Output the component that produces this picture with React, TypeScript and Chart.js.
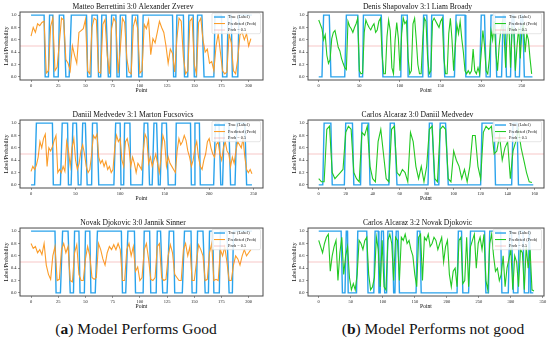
import React, { useEffect, useRef } from "react";
import { Chart, registerables } from "chart.js";
Chart.register(...registerables);

type Run = [number, number, number];

const FONT = "'Liberation Serif', 'Times New Roman', serif";
const BLUE = "#2aa3ec";
const ORANGE = "#fb9d2a";
const GREEN = "#22c922";
const THRESH = "rgba(232,90,90,0.38)";

const legendLabels = ["True (Label)", "Predicted (Prob)", "Prob = 0.5"];
const xAxisTitle = "Point";
const yAxisTitle = "Label/Probability";
const yTicks = [0, 0.2, 0.4, 0.6, 0.8, 1.0];
const yMin = -0.05;
const yMax = 1.05;
const threshold = 0.5;

// ---------- Panel 1 ----------
const p1Title = "Matteo Berrettini 3:0 Alexander Zverev";
const p1Runs: Run[] = [[0,12,1],[13,16,0],[17,20,1],[21,25,0],[26,30,1],[32,35,0],[37,51,1],[52,55,0],[56,61,1],[62,64,0],[65,69,1],[71,73,0],[74,78,1],[79,81,0],[82,87,1],[88,92,0],[93,98,1],[99,102,0],[103,130,1],[131,133,0],[134,140,1],[141,144,0],[145,149,1],[150,152,0],[153,157,1],[159,168,0],[169,175,1],[176,180,0],[181,184,1],[185,190,0],[191,203,1]];
const p1Step = 2;
const p1Pred = [.66,.80,.72,.86,.83,.88,.90,.06,.10,.82,.95,.10,.16,.55,.95,.92,.28,.22,.10,.50,.35,.22,.72,.75,.78,.93,.10,.05,.80,.95,.92,.08,.06,.85,.93,.35,.05,.78,.95,.88,.06,.45,.95,.88,.30,.08,.05,.82,.95,.78,.06,.10,.85,.78,.92,.36,.62,.55,.72,.90,.80,.72,.50,.22,.45,.38,.08,.62,.95,.90,.32,.05,.10,.90,.95,.20,.05,.88,.95,.60,.40,.45,.22,.25,.10,.50,.70,.40,.10,.05,.08,.70,.55,.10,.05,.30,.68,.72,.60,.70,.50,.62];
const p1XRange = [-10.15, 213.15];
const p1XTicks = [0, 25, 50, 75, 100, 125, 150, 175, 200];

// ---------- Panel 2 ----------
const p2Title = "Denis Shapovalov 3:1 Liam Broady";
const p2Runs: Run[] = [[0,4,0],[6,13,1],[15,32,0],[34,48,1],[50,54,0],[55,77,1],[79,101,0],[102,109,1],[110,128,0],[129,133,1],[135,138,0],[139,153,1],[155,167,0],[169,180,1],[181,198,0],[200,204,1],[206,211,0],[212,217,1],[219,225,0],[227,229,1],[231,236,0],[238,240,1],[242,247,0],[249,251,1],[253,263,0]];
const p2Step = 2;
const p2Pred = [.92,.85,.78,.60,.68,.35,.22,.28,.62,.72,.75,.62,.48,.42,.30,.22,.15,.12,.90,.82,.78,.72,.80,.86,.95,.10,.05,.06,.72,.92,.85,.80,.76,.82,.86,.72,.76,.90,.95,.35,.05,.05,.65,.92,.75,.15,.05,.60,.88,.62,.10,.70,.95,.86,.90,.30,.05,.10,.86,.95,.60,.20,.05,.05,.60,.95,.90,.30,.05,.10,.90,.95,.90,.85,.80,.90,.95,.30,.05,.05,.70,.95,.60,.10,.50,.85,.70,.90,.62,.40,.10,.05,.10,.05,.10,.45,.10,.05,.15,.05,.40,.75,.50,.10,.05,.30,.75,.60,.90,.40,.10,.50,.75,.90,.70,.15,.75,.85,.15,.80,.75,.10,.50,.80,.30,.75,.85,.40,.70,.60,.30,.05];
const p2XRange = [-13.2, 277.2];
const p2XTicks = [0, 50, 100, 150, 200, 250];

// ---------- Panel 3 ----------
const p3Title = "Daniil Medvedev 3:1 Marton Fucsovics";
const p3Runs: Run[] = [[0,4,0],[6,24,1],[25,33,0],[35,41,1],[42,45,0],[47,51,1],[53,56,0],[58,61,1],[63,68,0],[69,74,1],[76,93,0],[95,100,1],[101,104,0],[105,111,1],[112,125,0],[127,131,1],[133,136,0],[138,141,1],[143,145,0],[147,152,1],[154,162,0],[163,179,1],[180,183,0],[184,189,1],[190,205,0],[207,211,1],[213,215,0],[217,222,1],[224,229,0],[231,240,1],[242,248,0]];
const p3Step = 2;
const p3Pred = [.22,.30,.25,.32,.45,.70,.60,.75,.82,.30,.60,.55,.62,.72,.80,.20,.25,.20,.30,.22,.70,.55,.30,.60,.75,.40,.25,.35,.55,.65,.50,.30,.20,.25,.50,.80,.75,.82,.45,.35,.40,.30,.38,.25,.30,.20,.25,.60,.80,.70,.75,.40,.30,.70,.75,.60,.30,.45,.35,.20,.35,.30,.25,.55,.82,.75,.35,.45,.30,.40,.50,.35,.20,.45,.80,.70,.30,.45,.35,.30,.25,.20,.55,.75,.65,.70,.80,.72,.55,.45,.30,.40,.60,.70,.45,.30,.25,.40,.50,.70,.75,.60,.50,.45,.65,.70,.50,.40,.60,.70,.55,.50,.30,.45,.35,.55,.70,.65,.60,.75,.45,.25,.20,.25,.18];
const p3XRange = [-12.4, 260.4];
const p3XTicks = [0, 50, 100, 150, 200, 250];

// ---------- Panel 4 ----------
const p4Title = "Carlos Alcaraz 3:0 Daniil Medvedev";
const p4Runs: Run[] = [[0,3,0],[4,9,1],[10,19,0],[20,25,1],[26,31,0],[32,37,1],[38,52,0],[53,56,1],[58,81,0],[82,84,1],[86,89,0],[90,94,1],[96,120,0],[121,130,1],[131,143,0],[144,147,1],[148,159,0]];
const p4Step = 2;
const p4Pred = [.10,.05,.05,.90,.95,.20,.10,.15,.20,.25,.85,.95,.90,.20,.10,.05,.85,.80,.95,.30,.10,.05,.70,.90,.50,.10,.05,.90,.95,.20,.15,.25,.20,.05,.85,.70,.30,.10,.30,.05,.30,.90,.95,.10,.05,.90,.95,.90,.10,.05,.55,.40,.30,.10,.25,.05,.30,.80,.80,.30,.10,.85,.95,.90,.95,.50,.55,.80,.40,.60,.70,.10,.55,.70,.90,.60,.40,.20,.05,.04];
const p4XRange = [-7.95, 166.95];
const p4XTicks = [0, 20, 40, 60, 80, 100, 120, 140, 160];

// ---------- Panel 5 ----------
const p5Title = "Novak Djokovic 3:0 Jannik Sinner";
const p5Runs: Run[] = [[0,22,1],[23,27,0],[29,34,1],[36,39,0],[40,44,1],[45,49,0],[50,54,1],[55,59,0],[61,83,1],[84,87,0],[89,95,1],[96,103,0],[104,109,1],[110,115,0],[116,119,1],[121,125,0],[127,131,1],[132,139,0],[141,147,1],[148,152,0],[153,158,1],[160,163,0],[164,167,1],[168,173,0],[174,180,1],[182,185,0],[186,203,1]];
const p5Step = 2;
const p5Pred = [.80,.72,.75,.65,.70,.62,.80,.45,.30,.22,.60,.75,.20,.22,.70,.80,.65,.75,.20,.18,.65,.78,.30,.20,.20,.55,.75,.60,.25,.22,.25,.80,.70,.55,.45,.65,.75,.70,.78,.70,.80,.70,.20,.20,.70,.80,.60,.75,.35,.42,.20,.25,.70,.80,.55,.22,.20,.25,.75,.80,.25,.20,.22,.60,.78,.65,.30,.25,.20,.20,.70,.80,.60,.75,.20,.20,.50,.78,.70,.60,.20,.22,.65,.80,.20,.22,.20,.70,.60,.75,.50,.20,.20,.45,.60,.55,.45,.60,.70,.60,.65,.70];
const p5XRange = [-10.15, 213.15];
const p5XTicks = [0, 25, 50, 75, 100, 125, 150, 175, 200];

// ---------- Panel 6 ----------
const p6Title = "Carlos Alcaraz 3:2 Novak Djokovic";
const p6Runs: Run[] = [[0,35,1],[37,41,0],[43,45,1],[46,59,0],[61,75,1],[77,86,0],[88,93,1],[94,96,0],[98,101,1],[103,106,0],[108,115,1],[117,119,0],[121,124,1],[126,152,0],[154,158,1],[160,216,0],[218,223,1],[225,234,0],[237,259,1],[261,265,0],[267,284,1],[286,296,0],[298,301,1],[304,311,0],[313,319,1],[321,327,0],[328,329,1],[331,335,0]];
const p6Step = 3;
const p6Pred = [.85,.75,.65,.80,.90,.95,.35,.60,.75,.85,.20,.65,.90,.30,.60,.75,.25,.05,.15,.05,.30,.85,.80,.70,.85,.90,.30,.05,.10,.25,.90,.70,.10,.85,.10,.05,.85,.95,.80,.20,.90,.85,.20,.90,.85,.95,.80,.85,.70,.60,.30,.10,.90,.95,.20,.90,.85,.95,.75,.80,.90,.85,.70,.80,.90,.50,.75,.85,.30,.10,.35,.40,.10,.85,.90,.15,.20,.90,.10,.75,.85,.95,.40,.80,.90,.70,.95,.20,.05,.80,.95,.60,.35,.40,.20,.30,.60,.10,.40,.55,.70,.05,.60,.50,.10,.70,.65,.05,.75,.40,.70,.05,.03];
const p6XRange = [-16.75, 351.75];
const p6XTicks = [0, 50, 100, 150, 200, 250, 300, 350];

// ---------- captions ----------
const captionA = ["a", " Model Performs Good"];
const captionB = ["b", " Model Performs not good"];

interface PanelData {
  title: string;
  runs: Run[];
  pred: number[];
  step: number;
  color: string;
  xRange: number[];
  xTicks: number[];
}

const panels: PanelData[] = [
  { title: p1Title, runs: p1Runs, pred: p1Pred, step: p1Step, color: ORANGE, xRange: p1XRange, xTicks: p1XTicks },
  { title: p2Title, runs: p2Runs, pred: p2Pred, step: p2Step, color: GREEN, xRange: p2XRange, xTicks: p2XTicks },
  { title: p3Title, runs: p3Runs, pred: p3Pred, step: p3Step, color: ORANGE, xRange: p3XRange, xTicks: p3XTicks },
  { title: p4Title, runs: p4Runs, pred: p4Pred, step: p4Step, color: GREEN, xRange: p4XRange, xTicks: p4XTicks },
  { title: p5Title, runs: p5Runs, pred: p5Pred, step: p5Step, color: ORANGE, xRange: p5XRange, xTicks: p5XTicks },
  { title: p6Title, runs: p6Runs, pred: p6Pred, step: p6Step, color: GREEN, xRange: p6XRange, xTicks: p6XTicks },
];

// layout: plot-area boxes (left, right) per column and (top, bottom) per row
const colBox = [[20, 263, 0], [308, 544, 275]];
const rowBox = [[12, 80], [119.5, 187.5], [228, 296]];
const TITLE_H = 10;
const XAXIS_H = 14;
const YAXIS_W = 17;

const framePlugin = {
  id: "frame",
  afterDraw(chart: any) {
    const { ctx, chartArea: a } = chart;
    ctx.save();
    ctx.strokeStyle = "#4a4a4a";
    ctx.lineWidth = 1;
    ctx.strokeRect(a.left, a.top, a.right - a.left, a.bottom - a.top);
    ctx.restore();
  },
};

const legendPlugin = {
  id: "insideLegend",
  afterDatasetsDraw(chart: any) {
    const { ctx, chartArea: a } = chart;
    const w = 48.5;
    const h = 20.5;
    const x0 = a.right - 2.5 - w;
    const y0 = a.top + 1.2;
    ctx.save();
    ctx.fillStyle = "rgba(255,255,255,0.85)";
    ctx.strokeStyle = "#d4d4d4";
    ctx.lineWidth = 0.6;
    ctx.beginPath();
    (ctx as any).roundRect ? (ctx as any).roundRect(x0, y0, w, h, 1.5) : ctx.rect(x0, y0, w, h);
    ctx.fill();
    ctx.stroke();
    [0, 1, 2].forEach((i) => {
      const ds = chart.data.datasets[i];
      const cy = y0 + 3.8 + i * 6.5;
      ctx.strokeStyle = ds.borderColor;
      ctx.lineWidth = ds.borderWidth;
      ctx.setLineDash(ds.borderDash || []);
      ctx.beginPath();
      ctx.moveTo(x0 + 2, cy);
      ctx.lineTo(x0 + 13, cy);
      ctx.stroke();
      ctx.setLineDash([]);
      ctx.fillStyle = "#222";
      ctx.font = `4.3px ${FONT}`;
      ctx.textBaseline = "middle";
      ctx.textAlign = "left";
      ctx.fillText(ds.label, x0 + 16, cy);
    });
    ctx.restore();
  },
};

function Panel({ data, col, row }: { data: PanelData; col: number; row: number }) {
  const ref = useRef<HTMLCanvasElement | null>(null);
  const [L, R, cx] = colBox[col];
  const [T, B] = rowBox[row];
  const canvasTop = T - TITLE_H;
  const width = 275;
  const height = B + XAXIS_H - canvasTop;

  useEffect(() => {
    if (!ref.current) return;
    const labelPts = data.runs.flatMap(([s, e, v]) => [{ x: s, y: v }, { x: e, y: v }]);
    const predPts = data.pred.map((v, i) => ({ x: i * data.step, y: v }));
    const threshPts = [{ x: data.xRange[0], y: threshold }, { x: data.xRange[1], y: threshold }];
    const chart = new Chart(ref.current, {
      type: "line",
      data: {
        datasets: [
          { label: legendLabels[0], data: labelPts, borderColor: BLUE, borderWidth: 1.4, pointRadius: 0, tension: 0, order: 3 } as any,
          { label: legendLabels[1], data: predPts, borderColor: data.color, borderWidth: 1.1, pointRadius: 0, tension: 0, order: 2 } as any,
          { label: legendLabels[2], data: threshPts, borderColor: THRESH, borderWidth: 0.9, pointRadius: 0, order: 1 } as any,
        ],
      },
      options: {
        responsive: false,
        animation: false,
        devicePixelRatio: 1,
        events: [],
        layout: { padding: { left: L - cx - YAXIS_W, right: cx + width - R, top: 0, bottom: 0 } },
        plugins: {
          legend: { display: false },
          tooltip: { enabled: false },
          title: {
            display: true,
            text: data.title,
            color: "#111",
            font: { family: FONT, size: 7.6, weight: "normal", lineHeight: 1.2 },
            padding: { top: 0.5, bottom: 0.4 },
          },
        },
        scales: {
          x: {
            type: "linear",
            min: data.xRange[0],
            max: data.xRange[1],
            afterBuildTicks: (s: any) => {
              s.ticks = data.xTicks.map((v) => ({ value: v }));
            },
            afterFit: (s: any) => {
              s.height = XAXIS_H;
              s.paddingLeft = 0;
              s.paddingRight = 0;
            },
            grid: { display: true, drawOnChartArea: false, drawTicks: true, tickLength: 2, color: "#555", lineWidth: 0.6 },
            border: { display: false },
            ticks: {
              font: { family: FONT, size: 4.5 },
              color: "#222",
              padding: 1,
              maxRotation: 0,
              autoSkip: false,
              callback: (v: any) => String(v),
            },
            title: { display: true, text: xAxisTitle, color: "#111", font: { family: FONT, size: 5.6 }, padding: { top: 0, bottom: 0 } },
          },
          y: {
            type: "linear",
            min: yMin,
            max: yMax,
            afterBuildTicks: (s: any) => {
              s.ticks = yTicks.map((v) => ({ value: v }));
            },
            afterFit: (s: any) => {
              s.width = YAXIS_W;
              s.paddingTop = 0;
              s.paddingBottom = 0;
            },
            grid: { display: true, drawOnChartArea: false, drawTicks: true, tickLength: 2, color: "#555", lineWidth: 0.6 },
            border: { display: false },
            ticks: {
              font: { family: FONT, size: 4.5 },
              color: "#222",
              padding: 1.5,
              autoSkip: false,
              callback: (v: any) => Number(v).toFixed(1),
            },
            title: { display: true, text: yAxisTitle, color: "#111", font: { family: FONT, size: 5.6 }, padding: { top: 0, bottom: 0 } },
          },
        },
      } as any,
      plugins: [legendPlugin, framePlugin],
    });
    return () => chart.destroy();
  }, [data, col, row]);

  return (
    <canvas
      ref={ref}
      width={width}
      height={height}
      style={{ position: "absolute", left: cx, top: canvasTop, width, height }}
    />
  );
}

function Caption({ parts, centerX }: { parts: string[]; centerX: number }) {
  return (
    <div
      style={{
        position: "absolute",
        left: centerX - 140,
        width: 280,
        top: 321,
        textAlign: "center",
        fontFamily: FONT,
        fontSize: 15.5,
        lineHeight: "16px",
        color: "#111",
        whiteSpace: "nowrap",
      }}
    >
      (<b>{parts[0]}</b>){parts[1]}
    </div>
  );
}

export default function App() {
  return (
    <div style={{ position: "absolute", left: 0, top: 0, width: 550, height: 341, background: "#fff", overflow: "hidden" }}>
      {panels.map((p, i) => (
        <Panel key={i} data={p} col={i % 2} row={Math.floor(i / 2)} />
      ))}
      <Caption parts={captionA} centerX={136} />
      <Caption parts={captionB} centerX={433} />
    </div>
  );
}
